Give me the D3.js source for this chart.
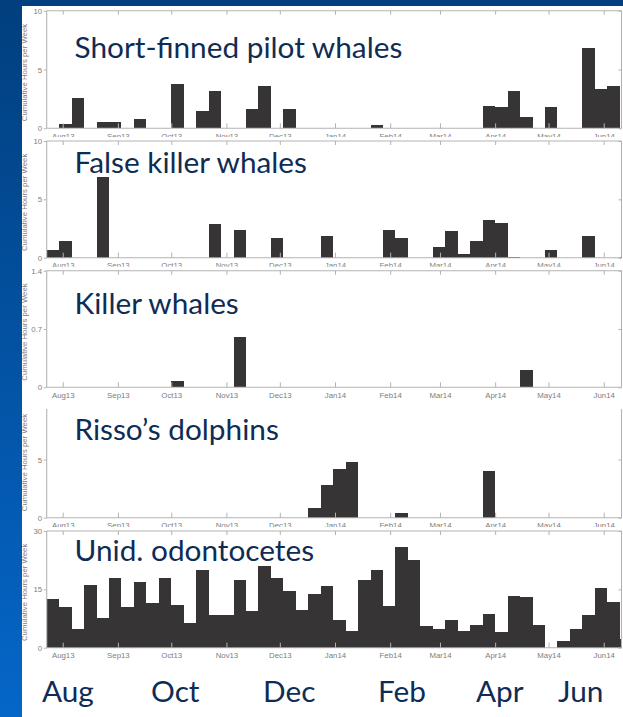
<!DOCTYPE html>
<html>
<head>
<meta charset="utf-8">
<script src="https://cdn.jsdelivr.net/npm/d3@7"></script>
<style>
  html, body { margin: 0; padding: 0; overflow: hidden; background: #fff; }
  svg { display: block; }
</style>
</head>
<body>
<svg id="chart" width="623" height="717"></svg>
<script>
// ---- Data: cumulative detection hours per week, one value per week ----
// Weeks run consecutively from the first recording week (23 Jul 2013).
const firstWeek = [2013, 6, 23];
const lastDay = [2014, 5, 11];

const speciesNames = [
  "Short-finned pilot whales",
  "False killer whales",
  "Killer whales",
  "Risso’s dolphins",
  "Unid. odontocetes"
];

const pilotWhales = [0, 0.4, 2.6, 0, 0.5, 0.5, 0, 0.8, 0, 0, 3.8, 0, 1.5, 3.2, 0, 0, 1.6, 3.6, 0, 1.6,
  0, 0, 0, 0, 0, 0, 0.3, 0, 0, 0, 0, 0, 0, 0, 0, 1.9, 1.8, 3.2, 1.0, 0, 1.8, 0, 0, 6.8, 3.3, 3.6, 0];
const falseKillerWhales = [0.7, 1.4, 0, 0, 6.9, 0, 0, 0, 0, 0, 0, 0, 0, 2.9, 0, 2.4, 0, 0, 1.7, 0,
  0, 0, 1.9, 0, 0, 0, 0, 2.4, 1.7, 0, 0, 0.9, 2.3, 0.3, 1.4, 3.2, 3.0, 0.05, 0, 0, 0.7, 0, 0, 1.9, 0, 0, 0.1];
const killerWhales = [0, 0, 0, 0, 0, 0, 0, 0, 0, 0, 0.08, 0, 0, 0, 0, 0.6, 0, 0, 0, 0,
  0, 0, 0, 0, 0, 0, 0, 0, 0, 0, 0, 0, 0, 0, 0, 0, 0, 0, 0.21, 0, 0, 0, 0, 0, 0, 0, 0];
const rissosDolphins = [0, 0, 0, 0, 0, 0, 0, 0, 0, 0, 0, 0, 0, 0, 0, 0, 0, 0, 0, 0,
  0, 0.8, 2.8, 4.2, 4.8, 0, 0, 0, 0.4, 0, 0, 0, 0, 0, 0, 4.0, 0, 0, 0, 0, 0, 0, 0, 0, 0, 0, 0];
const unidOdontocetes = [12.5, 10.5, 4.7, 16.1, 7.6, 18.0, 10.5, 16.9, 11.5, 18.0,
  10.9, 6.3, 20.1, 8.3, 8.4, 17.3, 9.5, 21.0, 17.9, 14.7,
  9.7, 13.7, 15.9, 7.1, 4.2, 17.4, 20.1, 10.8, 26.0, 22.5,
  5.7, 4.8, 7.2, 4.2, 5.8, 8.7, 4.0, 13.4, 13.1, 5.8,
  0, 1.6, 4.9, 8.5, 15.4, 11.8, 2.3];

const seriesList = [pilotWhales, falseKillerWhales, killerWhales, rissosDolphins, unidOdontocetes];
const yMaxima = [10, 10, 1.4, 10, 30];
const yTickValues = [[0, 5, 10], [0, 5, 10], [0, 0.7, 1.4], [0, 5, 10], [0, 15, 30]];
const yAxisTitle = "Cumulative Hours per Week";
const seasonLabels = ["Aug", "Oct", "Dec", "Feb", "Apr", "Jun"];

// ---- Layout ----
const W = 623, H = 717;
const plotLeft = 46.7, plotRight = 621.5;
const panelLayout = [
  { top: 10.7,  base: 128.3, cover: null,  axisTop: 10.7,  frameTop: true,  titleY: 58.3 },
  { top: 141,   base: 257.7, cover: 137,   axisTop: 141,   frameTop: true,  titleY: 172.7 },
  { top: 270.7, base: 387.3, cover: 266.7, axisTop: 270.7, frameTop: true,  titleY: 314.3 },
  { top: 401.3, base: 517.7, cover: 401,   axisTop: 409,   frameTop: false, titleY: 440 },
  { top: 531,   base: 647.7, cover: 527,   axisTop: 531,   frameTop: true,  titleY: 560.7 }
];
const titleX = 74.5;
const seasonX = [42, 151, 263, 378, 476, 558];
const seasonY = 701.7;
const titleColor = "#0f2c55";
const axisColor = "#b3b3b3";
const labelColor = "#7d7d7d";
const barFill = "#373435";
const smallFont = "'Liberation Sans', Arial, sans-serif";
const bigFont = "Lato, 'Open Sans', sans-serif";

const svg = d3.select("#chart");

// Slide background with the white content area
const defs = svg.append("defs");
const grad = defs.append("linearGradient").attr("id", "slideBlue")
  .attr("x1", 0).attr("y1", 0).attr("x2", 0).attr("y2", 1);
grad.append("stop").attr("offset", "0%").attr("stop-color", "#013f7e");
grad.append("stop").attr("offset", "100%").attr("stop-color", "#0566c8");
svg.append("rect").attr("width", W).attr("height", H).attr("fill", "url(#slideBlue)");
svg.append("rect").attr("x", 22).attr("y", 6).attr("width", W - 22).attr("height", H - 6).attr("fill", "#fff");

// Shared time axis
const t0 = new Date(Date.UTC(...firstWeek));
const t1 = new Date(Date.UTC(...lastDay));
const x = d3.scaleUtc().domain([t0, t1]).range([plotLeft, plotRight]);
const months = d3.utcMonth.range(new Date(Date.UTC(2013, 7, 1)), new Date(Date.UTC(2014, 5, 2)));
const monthFmt = d3.utcFormat("%b%y");

// Title font size: fit the longest title to its slide text box width
const probe = svg.append("text").attr("font-family", bigFont).attr("font-size", 30).text(speciesNames[0]);
const probeW = probe.node().getComputedTextLength();
probe.remove();
const bigSize = 30 * 328 / probeW;

seriesList.forEach((values, p) => {
  const L = panelLayout[p];
  const g = svg.append("g");

  if (L.cover !== null) {
    g.append("rect").attr("x", 22).attr("y", L.cover)
      .attr("width", W - 22).attr("height", H - L.cover).attr("fill", "#fff");
  }

  const y = d3.scaleLinear().domain([0, yMaxima[p]]).range([L.base, L.top]);

  // Weekly bars
  const weeks = values.map((v, i) => ({
    v,
    a: d3.utcDay.offset(t0, 7 * i),
    b: d3.utcDay.offset(t0, 7 * (i + 1))
  })).filter(d => d.v > 0);

  g.append("g").attr("shape-rendering", "crispEdges")
    .selectAll("rect").data(weeks).join("rect")
    .attr("x", d => x(d.a))
    .attr("width", d => Math.min(x(d.b), plotRight) - x(d.a))
    .attr("y", d => y(d.v))
    .attr("height", d => L.base - y(d.v))
    .attr("fill", barFill);

  // Bottom month axis, ticks pointing inward
  const bottom = g.append("g").attr("transform", `translate(0,${L.base})`)
    .call(d3.axisBottom(x).tickValues(months).tickSize(-5).tickSizeOuter(0).tickPadding(5).tickFormat(monthFmt));
  bottom.select(".domain").remove();
  bottom.selectAll("line").attr("stroke", axisColor);
  bottom.selectAll("text").attr("font-family", smallFont).attr("font-size", 7.8).attr("fill", labelColor);

  // Top frame ticks
  if (L.frameTop) {
    const topAx = g.append("g").attr("transform", `translate(0,${L.top})`)
      .call(d3.axisTop(x).tickValues(months).tickSize(-4).tickSizeOuter(0).tickFormat(""));
    topAx.select(".domain").remove();
    topAx.selectAll("line").attr("stroke", axisColor);
  }

  // Left value axis
  const visibleTicks = yTickValues[p].filter(t => y(t) >= L.axisTop - 1);
  const left = g.append("g").attr("transform", `translate(${plotLeft},0)`)
    .call(d3.axisLeft(y).tickValues(visibleTicks).tickSize(3).tickPadding(1.5).tickFormat(d3.format("~g")));
  left.select(".domain").remove();
  left.selectAll("line").attr("stroke", axisColor);
  left.selectAll("text").attr("font-family", smallFont).attr("font-size", 7.8).attr("fill", labelColor);

  // Right frame ticks
  const right = g.append("g").attr("transform", `translate(${plotRight},0)`)
    .call(d3.axisRight(y).tickValues(visibleTicks).tickSize(-3).tickFormat(""));
  right.select(".domain").remove();
  right.selectAll("line").attr("stroke", axisColor);

  // Frame lines
  const frame = g.append("g").attr("stroke", axisColor).attr("stroke-width", 1.1).attr("fill", "none");
  frame.append("line").attr("x1", plotLeft).attr("x2", plotLeft).attr("y1", L.axisTop).attr("y2", L.base);
  frame.append("line").attr("x1", plotRight).attr("x2", plotRight).attr("y1", L.axisTop).attr("y2", L.base);
  frame.append("line").attr("x1", plotLeft).attr("x2", plotRight).attr("y1", L.base).attr("y2", L.base);
  if (L.frameTop) {
    frame.append("line").attr("x1", plotLeft).attr("x2", plotRight).attr("y1", L.top).attr("y2", L.top);
  }

  // Value axis title
  g.append("text")
    .attr("transform", `translate(27,${(L.top + L.base) / 2 + 3}) rotate(-90)`)
    .attr("text-anchor", "middle")
    .attr("font-family", smallFont).attr("font-size", 7.8).attr("fill", labelColor)
    .text(yAxisTitle);

  // Species title
  g.append("text")
    .attr("x", titleX).attr("y", L.titleY)
    .attr("font-family", bigFont).attr("font-size", bigSize).attr("fill", titleColor)
    .text(speciesNames[p]);
});

// Season labels along the bottom of the slide
svg.append("g").selectAll("text").data(seasonLabels).join("text")
  .attr("x", (d, i) => seasonX[i]).attr("y", seasonY)
  .attr("font-family", bigFont).attr("font-size", bigSize).attr("fill", titleColor)
  .text(d => d);
</script>
</body>
</html>
